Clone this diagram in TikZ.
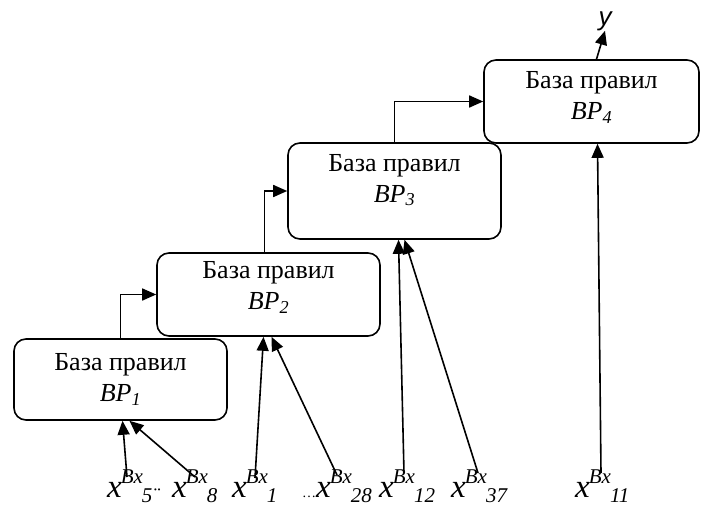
\documentclass[tikz,border=0pt]{standalone}
\usepackage{fontspec}
\setmainfont{Liberation Serif}
\newfontfamily\timesfont{Liberation Serif}
\newfontfamily\ysans{Liberation Sans}
\usetikzlibrary{arrows.meta,positioning,calc}

% x^{Bx}_{i} as printed below the rule bases
\newcommand{\inVar}[2][]{\timesfont{\fontsize{14}{14}\selectfont#1}\fontsize{33}{33}\selectfont\textit{x}\kern-1pt\raisebox{14pt}{\fontsize{21}{21}\selectfont\textit{Bx}}\kern-1pt\raisebox{-5pt}{\fontsize{21}{21}\selectfont\textit{#2}}}
% extra depth under the last line, lifts the text in its box
\newcommand{\lift}[1]{\rule[-#1]{0pt}{1pt}}

\begin{document}
\begin{tikzpicture}[x=1pt, y=-1pt,
    every node/.style={inner sep=0pt},
    ruleBase/.style={
        draw, rounded corners=12pt, line width=1.6pt,
        align=center, font=\timesfont\fontsize{26}{31}\selectfont
    },
    inputLabel/.style={anchor=base west},
    flowArrow/.style={line width=1.6pt, -{Triangle[length=14pt,width=12pt]}}
  ]
  \useasboundingbox (0,0) rectangle (701,506);

  % rule bases
  \node[ruleBase, minimum width=213pt, minimum height=81pt] (bp1) at (120.5,379.5) {База правил\\\textit{BP\textsubscript{1}}};
  \node[ruleBase, minimum width=223pt, minimum height=83pt] (bp2) at (268.5,294.5) {База правил\\\textit{BP\textsubscript{2}}\lift{18pt}};
  \node[ruleBase, minimum width=213pt, minimum height=96pt] (bp3) at (394.5,191) {База правил\\\textit{BP\textsubscript{3}}\lift{26pt}};
  \node[ruleBase, minimum width=215pt, minimum height=83pt] (bp4) at (591.5,101.5) {База правил\\\textit{BP\textsubscript{4}}\lift{12pt}};

  \node[font=\ysans\itshape\fontsize{26}{26}\selectfont] (yOut) at (605,21) {y};

  % chain between the bases
  \draw[flowArrow] (bp1.north) |- (bp2.west);
  \draw[flowArrow] ([xshift=-4pt]bp2.north) |- (bp3.west);
  \draw[flowArrow] (bp3.north) |- (bp4.west);
  \draw[flowArrow] ([xshift=5pt]bp4.north) -- (yOut.south);

  % input variables
  \node[inputLabel] (x5) at (107,497) {\inVar{5¨}};
  \node[inputLabel] (x8) at (172,497) {\inVar{8}};
  \node[inputLabel] (x1) at (232,497) {\inVar{1}};
  \node[inputLabel] (x28) at (302,497) {\inVar[…]{28}};
  \node[inputLabel] (x12) at (379,497) {\inVar{12}};
  \node[inputLabel] (x37) at (451,497) {\inVar{37}};
  \node[inputLabel] (x11) at (575,497) {\inVar{11}};

  \coordinate (in5) at (127,477);
  \coordinate (in8) at (195,477);
  \coordinate (in1) at (255,478);
  \coordinate (in28) at (337,475);
  \coordinate (in12) at (404,473);
  \coordinate (in37) at (478,473);
  \coordinate (in11) at (601,473);

  \draw[flowArrow] (in5) -- ([xshift=2pt]bp1.south);
  \draw[flowArrow] (in8) -- ([xshift=9pt]bp1.south);
  \draw[flowArrow] (in1) -- ([xshift=-5pt]bp2.south);
  \draw[flowArrow] (in28) -- ([xshift=3pt]bp2.south);
  \draw[flowArrow] (in12) -- ([xshift=4pt]bp3.south);
  \draw[flowArrow] (in37) -- ([xshift=10pt]bp3.south);
  \draw[flowArrow] (in11) -- ([xshift=6pt]bp4.south);
\end{tikzpicture}
\end{document}
